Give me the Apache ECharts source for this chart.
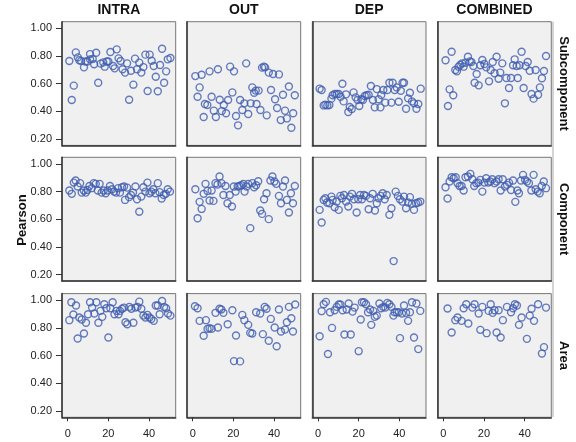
<!DOCTYPE html>
<html>
<head>
<meta charset="utf-8">
<script src="https://cdn.jsdelivr.net/npm/echarts@6/dist/echarts.min.js"></script>
<style>
  html, body { margin: 0; padding: 0; background: #fff; }
</style>
</head>
<body>
<div id="chart" style="width: 576px;height: 442px"></div>
<script>
  // facet labels
  const columns = ['INTRA', 'OUT', 'DEP', 'COMBINED'];
  const rows = ['Subcomponent', 'Component', 'Area'];
  const xTicks = [0, 20, 40];
  const yTicks = [0.2, 0.4, 0.6, 0.8, 1.0];

  // [index, pearson] -- row Subcomponent
  const intraSub = [[0.8,0.764],[2,0.482],[3,0.586],[4,0.826],[5,0.79],[5.7,0.77],[6.6,0.764],[8,0.718],[8.7,0.76],[9.7,0.76],[11,0.814],[11,0.776],[12.3,0.778],[13,0.74],[14,0.824],[15,0.607],[16.2,0.745],[17.5,0.754],[18.2,0.723],[19.2,0.76],[20,0.76],[21,0.829],[22.3,0.728],[23.1,0.711],[24.1,0.848],[25,0.783],[26,0.764],[27,0.704],[28.2,0.68],[29.2,0.747],[30.2,0.484],[31.1,0.694],[32.3,0.593],[33.1,0.781],[34.1,0.704],[35.2,0.752],[36.2,0.68],[37.2,0.72],[38.2,0.81],[39.3,0.547],[40.3,0.81],[41.3,0.766],[42.3,0.728],[43.3,0.65],[44.3,0.545],[45.4,0.735],[46.4,0.853],[47.4,0.607],[48.4,0.689],[49.2,0.776],[50.5,0.786]];
  const outSub = [[1.3,0.655],[2.4,0.506],[3.4,0.573],[4.4,0.665],[5.4,0.359],[6,0.453],[7.2,0.446],[8.3,0.689],[9.3,0.506],[10.4,0.405],[11.4,0.359],[12.4,0.704],[13.3,0.484],[14.3,0.402],[15.3,0.446],[16.4,0.386],[17.4,0.482],[18.4,0.723],[19.5,0.537],[20.3,0.689],[21.3,0.366],[22.3,0.299],[23.3,0.482],[24.4,0.41],[25.4,0.458],[26.3,0.747],[27.3,0.381],[28.5,0.458],[29.3,0.573],[30.2,0.535],[31,0.55],[31.4,0.453],[32.4,0.55],[33.3,0.41],[34.1,0.716],[35,0.723],[35.6,0.718],[36.4,0.371],[37.4,0.68],[38.5,0.554],[39.5,0.67],[40.5,0.487],[41.5,0.424],[42.4,0.667],[43.3,0.337],[44.4,0.52],[45.4,0.405],[46.3,0.349],[47.3,0.58],[48.5,0.282],[49.4,0.386],[50.2,0.516]];
  const depSub = [[0.8,0.564],[1.8,0.554],[2.8,0.443],[3.6,0.448],[4.6,0.443],[5.6,0.446],[6.6,0.492],[7.2,0.516],[8.2,0.525],[9.2,0.525],[10.2,0.525],[11.1,0.506],[12,0.6],[12.6,0.472],[13.8,0.523],[14.9,0.395],[15.6,0.431],[16.6,0.417],[17.5,0.537],[18.5,0.501],[19.5,0.482],[20.3,0.439],[21.3,0.487],[22.1,0.482],[23,0.511],[23.9,0.516],[24.9,0.52],[26,0.583],[27,0.482],[27.9,0.429],[28.9,0.561],[29.8,0.487],[30.7,0.429],[31.1,0.518],[32.1,0.554],[33.1,0.463],[34.1,0.554],[35.1,0.607],[36.1,0.463],[36.7,0.607],[37.7,0.554],[38.7,0.573],[39.7,0.47],[40.7,0.549],[41.6,0.607],[42.3,0.607],[43.3,0.419],[44.3,0.494],[45.2,0.535],[46.2,0.472],[47.2,0.458],[48.4,0.419],[49.3,0.453],[50.5,0.564]];
  const combSub = [[1.1,0.769],[2.3,0.439],[3.1,0.559],[4.1,0.831],[4.9,0.516],[5.9,0.699],[6.7,0.689],[7.5,0.723],[8.4,0.737],[9.3,0.747],[10,0.723],[10.9,0.752],[12.1,0.795],[13,0.761],[13.8,0.757],[14.8,0.728],[15.4,0.607],[16.4,0.67],[17.4,0.588],[18.2,0.733],[19.2,0.771],[20.2,0.742],[21.1,0.718],[22.5,0.617],[23.3,0.699],[24.3,0.757],[25.2,0.675],[26.2,0.795],[27.2,0.636],[28,0.68],[29,0.747],[30.3,0.458],[31,0.641],[32.3,0.569],[33.3,0.641],[34.3,0.733],[35.1,0.776],[36.1,0.728],[36.6,0.641],[37.5,0.733],[38.5,0.831],[39.5,0.569],[40.5,0.728],[41.5,0.757],[42.5,0.694],[43.4,0.525],[44.4,0.492],[45.4,0.699],[46.6,0.52],[47.5,0.573],[48.5,0.639],[49.5,0.692],[50.5,0.8]];

  // row Component
  const intraComp = [[0.8,0.808],[2,0.784],[3,0.865],[3.9,0.88],[4.9,0.837],[6.1,0.861],[6.9,0.793],[7.9,0.808],[8.9,0.793],[9.7,0.812],[10.7,0.841],[11.8,0.825],[12.8,0.861],[13.8,0.856],[14.8,0.808],[15.7,0.856],[16.7,0.793],[17.7,0.808],[18.7,0.788],[19.7,0.808],[20.8,0.841],[21.8,0.817],[22.8,0.8],[23.8,0.793],[24.8,0.825],[25.7,0.793],[26.7,0.832],[27.7,0.837],[28.2,0.74],[29.2,0.829],[30.2,0.76],[31.1,0.776],[32.1,0.793],[33.3,0.837],[34.1,0.745],[35.2,0.654],[36.2,0.764],[37.2,0.832],[38.2,0.8],[39.2,0.865],[40.2,0.788],[41.1,0.8],[42.1,0.817],[43.1,0.788],[44.3,0.861],[45.2,0.796],[46.2,0.75],[47.2,0.776],[48.2,0.784],[49.2,0.817],[50.3,0.8]];
  const outComp = [[1.3,0.817],[2.4,0.608],[3.4,0.726],[4.4,0.675],[5.4,0.784],[6.3,0.856],[7.3,0.805],[8.3,0.736],[9.3,0.808],[10.2,0.733],[11.2,0.861],[12.2,0.851],[13.2,0.909],[14.1,0.861],[15.1,0.776],[16.1,0.841],[17.1,0.716],[18.2,0.776],[19.3,0.692],[20.2,0.837],[21.1,0.8],[22.1,0.837],[22.9,0.841],[23.9,0.846],[24.9,0.856],[25.5,0.8],[26.5,0.837],[27.3,0.856],[28.3,0.536],[29.3,0.861],[30.2,0.832],[31.2,0.846],[32.2,0.875],[33.2,0.663],[34.1,0.639],[35.1,0.745],[36.3,0.788],[37.4,0.601],[38.2,0.88],[39.2,0.909],[40.2,0.873],[41.1,0.856],[42.4,0.769],[43.4,0.716],[44.4,0.837],[45.4,0.88],[46.3,0.74],[47.3,0.649],[48.3,0.788],[49.3,0.716],[50.2,0.841]];
  const depComp = [[0.8,0.668],[1.8,0.577],[2.8,0.74],[3.6,0.752],[4.4,0.721],[5.6,0.716],[6.6,0.764],[7.2,0.74],[8.2,0.687],[9.2,0.728],[10.2,0.668],[11,0.769],[11.8,0.752],[12.8,0.776],[13.8,0.728],[14.9,0.692],[15.7,0.764],[16.7,0.784],[17.7,0.745],[19,0.649],[19.8,0.745],[20.7,0.776],[21.6,0.745],[22.6,0.776],[23.6,0.769],[24.9,0.673],[25.6,0.752],[26.9,0.784],[28,0.663],[28.9,0.716],[29.8,0.752],[30.8,0.769],[31.8,0.788],[32.8,0.745],[33.8,0.776],[35.1,0.632],[36.1,0.68],[37.2,0.298],[38.2,0.8],[39.3,0.769],[40.3,0.745],[41.5,0.728],[42.3,0.764],[43.3,0.68],[44.3,0.721],[45.2,0.76],[46.2,0.712],[47.2,0.668],[48.2,0.716],[49.2,0.721],[50.3,0.728]];
  const combComp = [[1.1,0.832],[2.1,0.75],[3.1,0.873],[4.1,0.904],[5.1,0.897],[6.1,0.904],[7,0.861],[8,0.841],[9,0.841],[10,0.808],[10.9,0.904],[12.1,0.909],[13.3,0.928],[14.3,0.889],[15.2,0.841],[16.2,0.861],[17.2,0.865],[18.2,0.885],[19.2,0.8],[20.2,0.865],[21.1,0.897],[22.1,0.865],[23.1,0.873],[24.1,0.889],[25.2,0.861],[26.2,0.873],[27.2,0.889],[28.2,0.808],[29.2,0.889],[30.3,0.837],[31.3,0.849],[32.3,0.865],[33.3,0.812],[34.3,0.88],[35.4,0.726],[36.4,0.808],[37.2,0.788],[38.2,0.88],[39.2,0.921],[40.2,0.885],[41.1,0.873],[42.1,0.861],[43.3,0.808],[44.4,0.921],[45.4,0.817],[46.4,0.8],[47.4,0.788],[48.4,0.841],[49.4,0.873],[50.5,0.825]];

  // row Area
  const intraArea = [[0.8,0.856],[1.8,0.986],[2.8,0.897],[4.1,0.962],[4.9,0.724],[5.7,0.875],[6.9,0.861],[8,0.76],[9,0.837],[10,0.899],[11,0.986],[12,0.947],[13.1,0.904],[14.1,0.986],[15.1,0.837],[16.1,0.923],[17,0.88],[18,0.971],[19,0.942],[20,0.731],[21,0.942],[22.1,0.986],[23,0.899],[24,0.923],[25,0.899],[25.7,0.923],[26.7,0.938],[27.7,0.947],[28.4,0.841],[29.3,0.827],[30.3,0.952],[31.3,0.938],[32.3,0.837],[33.3,0.947],[34.3,0.952],[35.2,0.99],[36.2,0.938],[37.2,0.889],[38.2,0.875],[39.2,0.894],[40.2,0.875],[41.1,0.865],[42.3,0.851],[43.3,0.962],[44.3,0.962],[45.2,0.899],[46.4,0.995],[47.4,0.952],[48.4,0.942],[49.3,0.904],[50.5,0.889]];
  const outArea = [[1.1,0.957],[2.4,0.942],[3.4,0.851],[5.4,0.743],[6.5,0.856],[7.3,0.793],[8.3,0.798],[9.3,0.793],[11.2,0.909],[12.4,0.803],[13.2,0.938],[14.1,0.933],[15.1,0.909],[17.2,0.827],[19.5,0.928],[20.3,0.56],[21.3,0.745],[23.3,0.558],[24.4,0.894],[25.4,0.856],[27.3,0.822],[28.3,0.764],[29.3,0.76],[31.2,0.913],[33.2,0.904],[34.5,0.755],[35.4,0.952],[36.3,0.938],[37.4,0.707],[38.4,0.865],[40.3,0.803],[41.3,0.668],[42.4,0.933],[43.4,0.774],[45.4,0.788],[46.3,0.841],[47.3,0.952],[48.5,0.87],[49.3,0.774],[50.4,0.969]];
  const depArea = [[0.8,0.74],[1.8,0.921],[2.8,0.971],[3.9,0.988],[4.9,0.611],[5.9,0.913],[6.9,0.8],[8.2,0.928],[9.2,0.952],[10.2,0.969],[11,0.969],[12.1,0.928],[13,0.752],[14.1,0.933],[15.1,0.976],[16.1,0.752],[17,0.918],[18,0.947],[20,0.632],[21,0.861],[21.6,0.986],[22.6,0.986],[23.6,0.971],[24.6,0.913],[25.6,0.933],[26.2,0.822],[27.2,0.923],[27.9,0.88],[28.9,0.889],[30.2,0.976],[31.1,0.942],[32.1,0.952],[33.1,0.947],[34.1,0.981],[35.1,0.971],[36.1,0.952],[37.1,0.889],[37.7,0.913],[38.7,0.913],[39.7,0.913],[40.3,0.726],[41.3,0.904],[42.3,0.962],[43.3,0.909],[44.3,0.851],[45.2,0.913],[46.2,0.986],[47.2,0.731],[48.4,0.976],[49.3,0.647],[50.3,0.923]];
  const combArea = [[2.1,0.94],[4.1,0.767],[5.9,0.856],[7,0.875],[9,0.851],[10,0.942],[11.3,0.971],[12.3,0.832],[14.3,0.947],[15.4,0.971],[17.4,0.904],[18.2,0.786],[19.2,0.952],[21.3,0.762],[22.3,0.923],[23.3,0.971],[24.3,0.909],[25.2,0.928],[26.2,0.767],[27.2,0.928],[28.2,0.731],[29.3,0.856],[31.3,0.952],[33.3,0.913],[34.3,0.942],[35.2,0.971],[36.2,0.962],[37.2,0.822],[38.5,0.875],[41.1,0.721],[42.5,0.889],[43.4,0.938],[44.6,0.851],[46.6,0.971],[48.5,0.615],[49.5,0.661],[50.5,0.947]];

  const panels = [
    [intraSub, outSub, depSub, combSub],
    [intraComp, outComp, depComp, combComp],
    [intraArea, outArea, depArea, combArea]
  ];

  const FONT = 'Liberation Sans, Arial, sans-serif';
  const colLeft = [62, 187, 312.3, 437.6];
  const rowTop = [21.7, 157.3, 293.6];
  const panelW = 113.7, panelH = 123.7;

  let grid = [], xAxis = [], yAxis = [], series = [];
  rows.forEach((r, ri) => {
    columns.forEach((c, ci) => {
      const idx = grid.length;
      grid.push({
        left: colLeft[ci], top: rowTop[ri], width: panelW, height: panelH,
        show: true, backgroundColor: '#f0f0f0', borderColor: '#777', borderWidth: 1
      });
      // left and bottom frame edges are darker, like the original
      xAxis.push({
        gridIndex: idx, type: 'value', min: -2.8, max: 53.1,
        splitLine: { show: false },
        axisLine: { show: true, onZero: false, lineStyle: { color: '#333', width: 1.5 } },
        axisTick: { show: ri === 2, length: 4, customValues: xTicks, lineStyle: { color: '#333' } },
        axisLabel: { show: ri === 2, customValues: xTicks, margin: 11, fontSize: 11, color: '#222', fontFamily: FONT }
      });
      yAxis.push({
        gridIndex: idx, type: 'value', min: 0.154, max: 1.048,
        splitLine: { show: false },
        axisLine: { show: true, onZero: false, lineStyle: { color: '#333', width: 1.5 } },
        axisTick: { show: ci === 0, length: 6, customValues: yTicks, lineStyle: { color: '#333' } },
        axisLabel: {
          show: ci === 0, customValues: yTicks, margin: 10, fontSize: 11, color: '#222', fontFamily: FONT,
          formatter: v => v.toFixed(2)
        }
      });
      series.push({
        type: 'scatter', xAxisIndex: idx, yAxisIndex: idx,
        data: panels[ri][ci],
        symbol: 'circle', symbolSize: 7,
        itemStyle: { color: 'rgba(0,0,0,0)', borderColor: '#3f5db0', borderWidth: 1.4 },
        silent: true
      });
    });
  });

  let graphic = [];
  columns.forEach((c, ci) => {
    graphic.push({
      type: 'text', x: colLeft[ci] + panelW / 2, y: 10,
      style: { text: c, font: 'bold 14px ' + FONT, fill: '#111', textAlign: 'center', textVerticalAlign: 'middle' }
    });
  });
  rows.forEach((r, ri) => {
    graphic.push({
      type: 'text', x: 564, y: rowTop[ri] + panelH / 2, rotation: -Math.PI / 2,
      style: { text: r, font: 'bold 13px ' + FONT, fill: '#111', textAlign: 'center', textVerticalAlign: 'middle' }
    });
  });
  graphic.push({
    type: 'text', x: 22, y: 220, rotation: Math.PI / 2,
    style: { text: 'Pearson', font: 'bold 13px ' + FONT, fill: '#111', textAlign: 'center', textVerticalAlign: 'middle' }
  });
  graphic.push({
    type: 'line', shape: { x1: 553, y1: 21.7, x2: 553, y2: 417 },
    style: { stroke: '#aaa', lineWidth: 1 }, z: -1
  });

  const chart = echarts.init(document.getElementById('chart'));
  chart.setOption({
    animation: false,
    backgroundColor: '#fff',
    grid: grid, xAxis: xAxis, yAxis: yAxis, series: series, graphic: graphic
  });
</script>
</body>
</html>
